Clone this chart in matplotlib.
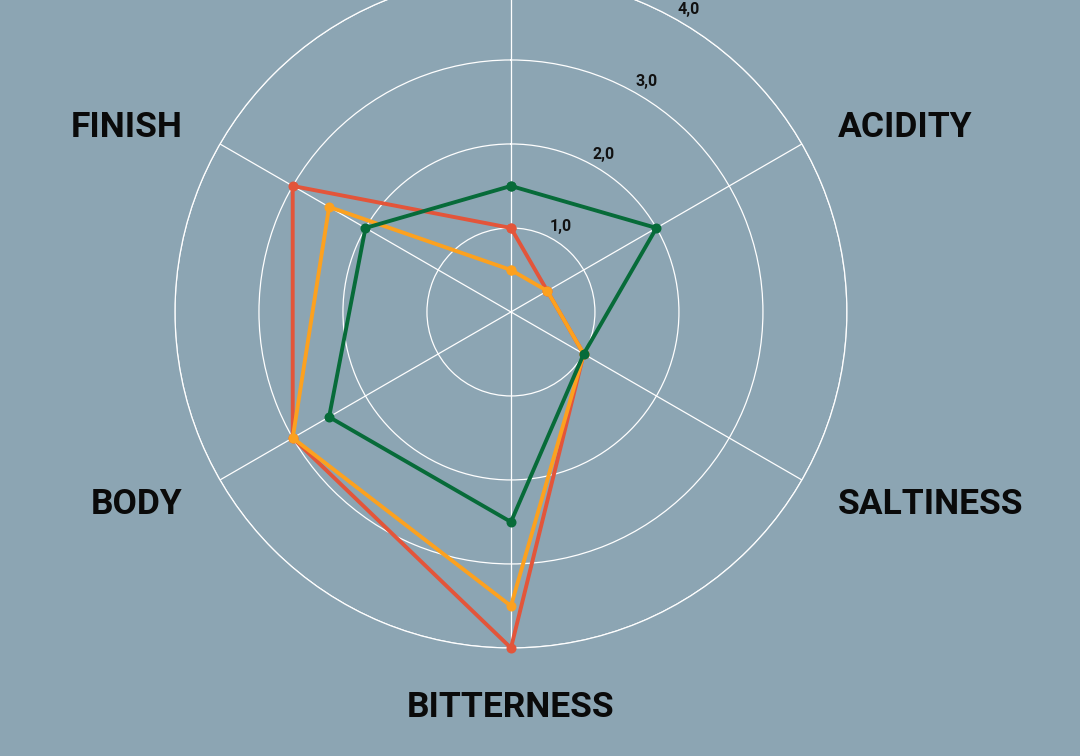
import numpy as np
import matplotlib
matplotlib.use("Agg")
import matplotlib.pyplot as plt

# ---- data ----
categories = ["", "ACIDITY", "SALTINESS", "BITTERNESS", "BODY", "FINISH"]
series_red = [1.0, 0.5, 1.0, 4.0, 3.0, 3.0]
series_orange = [0.5, 0.5, 1.0, 3.5, 3.0, 2.5]
series_green = [1.5, 2.0, 1.0, 2.5, 2.5, 2.0]
r_ticks = [1.0, 2.0, 3.0, 4.0]
r_tick_labels = ["1,0", "2,0", "3,0", "4,0"]

BG = "#8ca5b3"
RED = "#e3553a"
ORANGE = "#fca11f"
GREEN = "#076b39"
FONT = ["Roboto", "DejaVu Sans"]

fig = plt.figure(figsize=(10.8, 7.56), dpi=100, facecolor=BG)
ax = fig.add_axes([0.1620, 0.1429, 0.6222, 0.8889], projection="polar")
ax.set_facecolor(BG)
ax.set_theta_zero_location("N")
ax.set_theta_direction(-1)

n = len(categories)
angles = np.linspace(0, 2 * np.pi, n, endpoint=False)
closed = np.concatenate([angles, angles[:1]])

for vals, col in [(series_red, RED), (series_orange, ORANGE), (series_green, GREEN)]:
    v = np.array(vals + vals[:1])
    ax.plot(closed, v, color=col, lw=2.8, marker="o", markersize=6.2,
            solid_joinstyle="miter", zorder=3, clip_on=False)

ax.set_ylim(0, 4)
ax.set_yticks(r_ticks)
ax.set_yticklabels([])
ax.set_xticks(angles)
ax.set_xticklabels([])
ax.grid(True, color="white", lw=0.9)
ax.spines["polar"].set_color("white")
ax.spines["polar"].set_linewidth(0.9)
ax.tick_params(length=0)

# radial tick labels
lab_theta = np.deg2rad(30.5)
off = 15
for r, t in zip(r_ticks, r_tick_labels):
    ax.annotate(t, xy=(lab_theta, r),
                xytext=(off * np.sin(lab_theta), off * np.cos(lab_theta)),
                textcoords="offset pixels",
                ha="center", va="center", fontsize=11.5, fontweight="bold",
                family=FONT, color="#111111", annotation_clip=False)

# category labels
for ang, name in zip(angles, categories):
    if not name:
        continue
    s, c = np.sin(ang), np.cos(ang)
    if s > 0.1:
        ha, dx = "left", 36
    elif s < -0.1:
        ha, dx = "right", -37
    else:
        ha, dx = "center", 0
    if abs(s) < 0.1:
        dy = -60 if c < 0 else 60
    else:
        dy = 16 if c > 0 else -25
    ax.annotate(name, xy=(ang, 4.0), xytext=(dx, dy), textcoords="offset pixels",
                ha=ha, va="center", fontsize=25.5, fontweight="bold",
                family=FONT, color="#0a0a0a", annotation_clip=False)

fig.savefig("out.png", dpi=100, facecolor=BG)
